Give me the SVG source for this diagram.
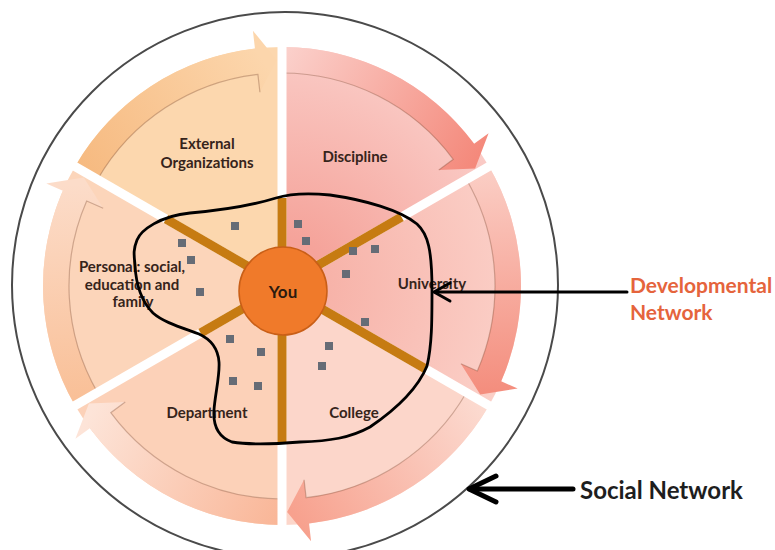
<svg xmlns="http://www.w3.org/2000/svg" width="775" height="550" viewBox="0 0 775 550">
  <defs>
    <!-- band gradients: tail to head of each circular arrow -->
    <linearGradient id="bandExt" gradientUnits="userSpaceOnUse" x1="75" y1="170" x2="255" y2="48">
      <stop offset="0" stop-color="#F6B97F"/>
      <stop offset="1" stop-color="#FCD6AC"/>
    </linearGradient>
    <linearGradient id="bandDisc" gradientUnits="userSpaceOnUse" x1="282" y1="47" x2="480" y2="160">
      <stop offset="0" stop-color="#FBD2CD"/>
      <stop offset="1" stop-color="#F4887A"/>
    </linearGradient>
    <linearGradient id="bandUni" gradientUnits="userSpaceOnUse" x1="489" y1="166" x2="500" y2="390">
      <stop offset="0" stop-color="#FBCFC6"/>
      <stop offset="1" stop-color="#F48E7E"/>
    </linearGradient>
    <linearGradient id="bandCol" gradientUnits="userSpaceOnUse" x1="489" y1="405" x2="300" y2="525">
      <stop offset="0" stop-color="#FCDCD2"/>
      <stop offset="1" stop-color="#F7A18E"/>
    </linearGradient>
    <linearGradient id="bandDep" gradientUnits="userSpaceOnUse" x1="282" y1="525" x2="85" y2="425">
      <stop offset="0" stop-color="#F9B596"/>
      <stop offset="1" stop-color="#FDE4D8"/>
    </linearGradient>
    <linearGradient id="bandPer" gradientUnits="userSpaceOnUse" x1="75" y1="405" x2="63" y2="185">
      <stop offset="0" stop-color="#F9BF96"/>
      <stop offset="1" stop-color="#FCDCC9"/>
    </linearGradient>
    <!-- wedge fills -->
    <radialGradient id="wedgeDisc" gradientUnits="userSpaceOnUse" cx="282" cy="286" r="239">
      <stop offset="0.2" stop-color="#F5A39A"/>
      <stop offset="1" stop-color="#FACBC6"/>
    </radialGradient>
    <radialGradient id="wedgeUni" gradientUnits="userSpaceOnUse" cx="282" cy="286" r="239">
      <stop offset="0.2" stop-color="#F7B3A9"/>
      <stop offset="1" stop-color="#FBD0C8"/>
    </radialGradient>
  </defs>
  <style>
    .lbl { font-family: Lato, "Open Sans", "Liberation Sans", sans-serif; font-weight: 700; font-size: 15px; fill: #36241B; text-anchor: middle; }
    .edge { fill: none; stroke: #7A4A35; stroke-opacity: 0.35; stroke-width: 1.2; }
    .gap { stroke: #FFFFFF; stroke-width: 9; }
    .spoke { stroke: #C67B12; stroke-width: 9; }
    .dot { fill: #666C76; }
    .line { fill: none; stroke: #000000; stroke-linecap: round; stroke-linejoin: round; }
  </style>

  <rect width="775" height="550" fill="#FFFFFF"/>

  <!-- outer ring: social network -->
  <circle id="social-ring" cx="285" cy="285" r="273" fill="none" stroke="#4A4A4A" stroke-width="2"/>

  <!-- External Organizations -->
  <g id="seg-external">
    <path d="M282,286 L75.02,166.5 A239,239 0 0 1 282,47 Z" fill="#FCD7AE"/>
    <path d="M75.02,166.5 A239,239 0 0 1 254.95,48.54 L252.91,30.65 L276.87,60.06 L259.93,92.25 L257.89,74.37 A213,213 0 0 0 97.54,179.5 Z" fill="url(#bandExt)"/>
    <path class="edge" d="M97.54,179.5 A213,213 0 0 1 257.89,74.37 L259.93,92.25"/>
    <text class="lbl" x="207" y="149">External</text>
    <text class="lbl" x="207" y="168">Organizations</text>
  </g>

  <!-- Discipline -->
  <g id="seg-discipline">
    <path d="M282,286 L282,47 A239,239 0 0 1 488.98,166.5 Z" fill="url(#wedgeDisc)"/>
    <path d="M282,47 A239,239 0 0 1 474.12,143.84 L488.59,133.13 L475.1,168.59 L438.75,170.01 L453.22,159.3 A213,213 0 0 0 282,73 Z" fill="url(#bandDisc)"/>
    <path class="edge" d="M282,73 A213,213 0 0 1 453.22,159.3 L438.75,170.01"/>
    <text class="lbl" x="355" y="162">Discipline</text>
  </g>

  <!-- University -->
  <g id="seg-university">
    <path d="M282,286 L488.98,166.5 A239,239 0 0 1 488.98,405.5 Z" fill="url(#wedgeUni)"/>
    <path d="M488.98,166.5 A239,239 0 0 1 501.18,381.3 L517.68,388.48 L480.24,394.53 L460.83,363.76 L477.33,370.93 A213,213 0 0 0 466.46,179.5 Z" fill="url(#bandUni)"/>
    <path class="edge" d="M466.46,179.5 A213,213 0 0 1 477.33,370.93 L460.83,363.76"/>
    <text class="lbl" x="432" y="289">University</text>
  </g>

  <!-- College -->
  <g id="seg-college">
    <path d="M282,286 L488.98,405.5 A239,239 0 0 1 282,525 Z" fill="#FCD6CA"/>
    <path d="M488.98,405.5 A239,239 0 0 1 309.05,523.46 L311.09,541.35 L287.13,511.94 L304.07,479.75 L306.11,497.63 A213,213 0 0 0 466.46,392.5 Z" fill="url(#bandCol)"/>
    <path class="edge" d="M466.46,392.5 A213,213 0 0 1 306.11,497.63 L304.07,479.75"/>
    <text class="lbl" x="354" y="418">College</text>
  </g>

  <!-- Department -->
  <g id="seg-department">
    <path d="M282,286 L282,525 A239,239 0 0 1 75.02,405.5 Z" fill="#FCD1B8"/>
    <path d="M282,525 A239,239 0 0 1 89.88,428.16 L75.41,438.87 L88.9,403.41 L125.25,401.99 L110.78,412.7 A213,213 0 0 0 282,499 Z" fill="url(#bandDep)"/>
    <path class="edge" d="M282,499 A213,213 0 0 1 110.78,412.7 L125.25,401.99"/>
    <text class="lbl" x="207" y="418">Department</text>
  </g>

  <!-- Personal -->
  <g id="seg-personal">
    <path d="M282,286 L75.02,405.5 A239,239 0 0 1 75.02,166.5 Z" fill="#FCD5BA"/>
    <path d="M75.02,405.5 A239,239 0 0 1 62.82,190.7 L46.32,183.52 L83.76,177.47 L103.17,208.24 L86.67,201.07 A213,213 0 0 0 97.54,392.5 Z" fill="url(#bandPer)"/>
    <path class="edge" d="M97.54,392.5 A213,213 0 0 1 86.67,201.07 L103.17,208.24"/>
    <text class="lbl" x="132" y="272">Personal: social,</text>
    <text class="lbl" x="132" y="290">education and</text>
    <text class="lbl" x="133" y="307">family</text>
  </g>

  <!-- white separators between segments -->
  <g id="separators">
    <line class="gap" x1="282" y1="286" x2="282" y2="24"/>
    <line class="gap" x1="282" y1="286" x2="508.9" y2="155"/>
    <line class="gap" x1="282" y1="286" x2="508.9" y2="417"/>
    <line class="gap" x1="282" y1="286" x2="282" y2="548"/>
    <line class="gap" x1="282" y1="286" x2="55.1" y2="417"/>
    <line class="gap" x1="282" y1="286" x2="55.1" y2="155"/>
  </g>

  <!-- spokes from the centre -->
  <g id="spokes">
    <line class="spoke" x1="282" y1="286" x2="282" y2="198"/>
    <line class="spoke" x1="282" y1="286" x2="401.5" y2="217"/>
    <line class="spoke" x1="282" y1="286" x2="424.9" y2="368.5"/>
    <line class="spoke" x1="282" y1="286" x2="282" y2="443"/>
    <line class="spoke" x1="282" y1="286" x2="200.6" y2="333"/>
    <line class="spoke" x1="282" y1="286" x2="166" y2="219"/>
  </g>

  <!-- centre node -->
  <g id="node-you">
    <circle cx="283" cy="291" r="44" fill="#F07A2A" stroke="#C95F17" stroke-width="1.5"/>
    <text x="283" y="298" font-family="Lato, 'Open Sans', sans-serif" font-weight="700" font-size="17" fill="#2B1A0F" text-anchor="middle">You</text>
  </g>

  <!-- contacts -->
  <g id="contacts">
    <rect class="dot" x="231" y="222" width="8" height="8"/>
    <rect class="dot" x="178" y="239" width="8" height="8"/>
    <rect class="dot" x="187" y="256" width="8" height="8"/>
    <rect class="dot" x="196" y="288" width="8" height="8"/>
    <rect class="dot" x="294" y="220" width="8" height="8"/>
    <rect class="dot" x="302" y="237" width="8" height="8"/>
    <rect class="dot" x="349" y="247" width="8" height="8"/>
    <rect class="dot" x="371" y="245" width="8" height="8"/>
    <rect class="dot" x="342" y="270" width="8" height="8"/>
    <rect class="dot" x="361" y="318" width="8" height="8"/>
    <rect class="dot" x="325" y="342" width="8" height="8"/>
    <rect class="dot" x="318" y="362" width="8" height="8"/>
    <rect class="dot" x="226" y="335" width="8" height="8"/>
    <rect class="dot" x="257" y="348" width="8" height="8"/>
    <rect class="dot" x="229" y="377" width="8" height="8"/>
    <rect class="dot" x="254" y="382" width="8" height="8"/>
  </g>

  <!-- developmental network boundary -->
  <g id="developmental-boundary">
    <path class="line" stroke-width="2.8" d="M137,240 C141,230 160,216 190,213 C225,210 250,206 276,198 C292,193 310,193 330,195 C365,200 400,210 417,224 C428,234 432,250 432,290 C432,320 432,345 427,366 C418,388 395,410 370,427 C350,438 330,441 300,442 C275,444 250,445 232,442 C218,437 213,425 214,410 C215,395 220,375 219,362 C218,348 210,339 199,334 C180,327 163,322 153,313 C142,302 136,285 135,265 C134,255 133,250 137,240 Z"/>
  </g>

  <!-- pointer arrows -->
  <g id="connectors">
    <line class="line" stroke-width="3" x1="627" y1="292" x2="435" y2="292"/>
    <polyline class="line" stroke-width="3" points="450,283 434,292 450,301"/>
    <line class="line" stroke-width="5" x1="573" y1="489" x2="470" y2="489"/>
    <polyline class="line" stroke-width="5" points="496,476 469,489 496,502"/>
  </g>

  <g id="label-developmental">
    <text x="630" y="293" font-family="Lato, 'Open Sans', sans-serif" font-weight="700" font-size="21" fill="#E5643C">Developmental</text>
    <text x="630" y="320" font-family="Lato, 'Open Sans', sans-serif" font-weight="700" font-size="21" fill="#E5643C">Network</text>
  </g>
  <g id="label-social">
    <text x="580" y="499" font-family="Lato, 'Open Sans', sans-serif" font-weight="700" font-size="24" fill="#1E1E1E">Social Network</text>
  </g>
</svg>
